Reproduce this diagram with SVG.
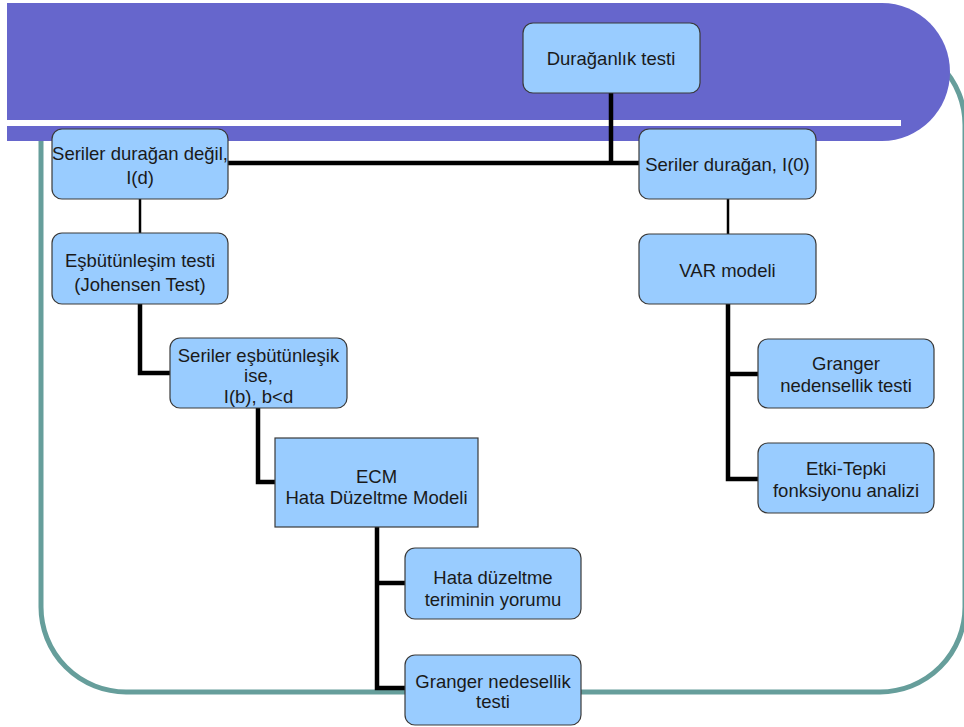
<svg xmlns="http://www.w3.org/2000/svg" width="964" height="727" viewBox="0 0 964 727">
<style>
.box{fill:#99ccff;stroke:#3a3a3a;stroke-width:1.2}
.t{font-family:"Liberation Sans",Arial,sans-serif;font-size:18.5px;fill:#1a1a1a;text-anchor:middle}
.thick{fill:none;stroke:#000;stroke-width:4.5}
.thin{fill:none;stroke:#000;stroke-width:2.5}
</style>
<rect width="964" height="727" fill="#ffffff"/>
<g id="background">
<rect x="41" y="40" width="924" height="652" rx="85" ry="85" fill="none" stroke="#669e9b" stroke-width="5"/>
<path d="M7,3 H882 A68,69 0 0 1 950,72 A68,69 0 0 1 882,141 H7 Z" fill="#6666cc"/>
<rect x="7" y="120" width="894" height="6" fill="#ffffff"/>
</g>
<g id="connectors">
<path class="thick" d="M611,93 V163"/>
<path class="thick" d="M228,163 H639"/>
<path class="thin" d="M140,199 V233"/>
<path class="thick" d="M140,304 V373 H170"/>
<path class="thick" d="M258,408 V482 H275"/>
<path class="thick" d="M377,527 V688 H405"/>
<path class="thick" d="M377,583 H405"/>
<path class="thin" d="M728,199 V234"/>
<path class="thick" d="M728,304 V479 H758"/>
<path class="thick" d="M728,374 H758"/>
</g>
<g id="n1"><rect class="box" x="523" y="23" width="177" height="70" rx="10"/><text class="t" x="611" y="64.5">Durağanlık testi</text></g>
<g id="n2"><rect class="box" x="52" y="129" width="176" height="70" rx="10"/><text class="t" x="140" y="159.5">Seriler durağan değil,</text><text class="t" x="140" y="183.5">I(d)</text></g>
<g id="n3"><rect class="box" x="639" y="129" width="177" height="70" rx="10"/><text class="t" x="727.5" y="170.5">Seriler durağan, I(0)</text></g>
<g id="n4"><rect class="box" x="52" y="233" width="176" height="71" rx="10"/><text class="t" x="140" y="266.5">Eşbütünleşim testi</text><text class="t" x="140" y="290.5">(Johensen Test)</text></g>
<g id="n5"><rect class="box" x="170" y="338" width="177" height="70" rx="10"/><text class="t" x="258.5" y="361.5">Seriler eşbütünleşik</text><text class="t" x="258.5" y="381.5">ise,</text><text class="t" x="258.5" y="402.5">I(b), b&lt;d</text></g>
<g id="n6"><rect class="box" x="275" y="438" width="203" height="89"/><text class="t" x="376.5" y="482.5">ECM</text><text class="t" x="376.5" y="503.5">Hata Düzeltme Modeli</text></g>
<g id="n7"><rect class="box" x="405" y="548" width="176" height="71" rx="10"/><text class="t" x="493" y="583.5">Hata düzeltme</text><text class="t" x="493" y="605.5">teriminin yorumu</text></g>
<g id="n8"><rect class="box" x="405" y="655" width="176" height="70" rx="10"/><text class="t" x="493" y="687.5">Granger nedesellik</text><text class="t" x="493" y="707.5">testi</text></g>
<g id="n9"><rect class="box" x="639" y="234" width="177" height="70" rx="10"/><text class="t" x="727.5" y="276.5">VAR modeli</text></g>
<g id="n10"><rect class="box" x="758" y="339" width="176" height="69" rx="10"/><text class="t" x="846" y="370">Granger</text><text class="t" x="846" y="391.5">nedensellik testi</text></g>
<g id="n11"><rect class="box" x="758" y="443" width="176" height="70" rx="10"/><text class="t" x="846" y="475">Etki-Tepki</text><text class="t" x="846" y="496.5">fonksiyonu analizi</text></g>
</svg>
